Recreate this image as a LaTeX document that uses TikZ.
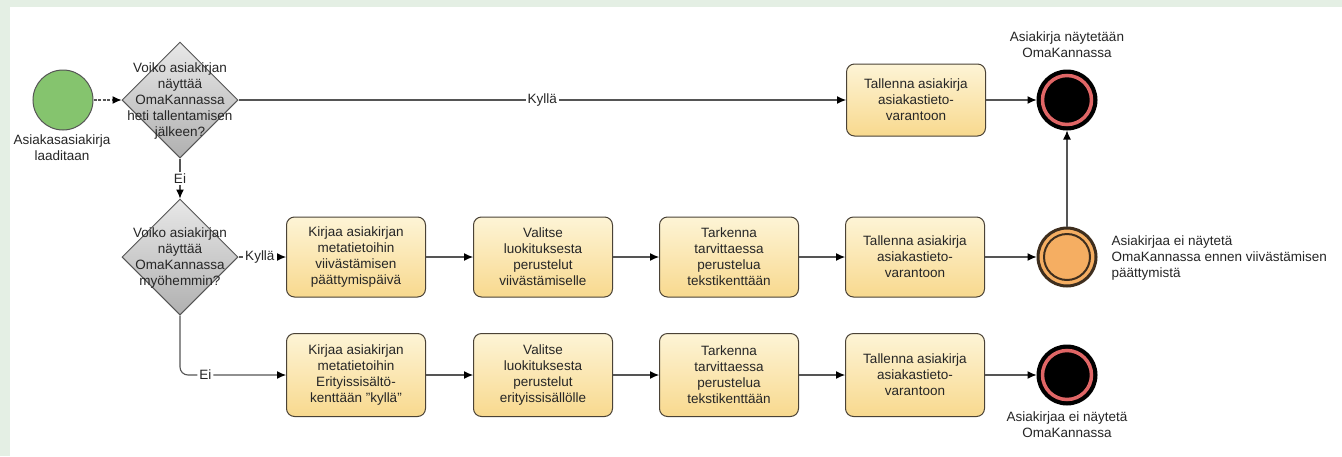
\documentclass[tikz,border=0pt]{standalone}
\usepackage{fontspec}
\setmainfont{Liberation Sans}
\usetikzlibrary{shapes.geometric,arrows.meta}
\definecolor{bgg}{HTML}{E4EFE4}
\definecolor{txt}{HTML}{262626}
\definecolor{lin}{HTML}{555555}
\definecolor{boxtop}{HTML}{FDF4D6}
\definecolor{boxbot}{HTML}{F8D98E}
\definecolor{boxdraw}{HTML}{4A4236}
\definecolor{diatop}{HTML}{E8E8E8}
\definecolor{diabot}{HTML}{B0B0B0}
\definecolor{startg}{HTML}{85C46E}
\definecolor{endred}{HTML}{E06666}
\definecolor{orng}{HTML}{F5AE62}
\definecolor{orngd}{HTML}{3E2E1E}
\tikzset{
  every node/.style={font=\fontsize{13.5}{16}\selectfont, text=txt},
  taskbox/.style={draw=boxdraw, line width=1pt, rounded corners=8pt, top color=boxtop, bottom color=boxbot, minimum width=139pt, minimum height=80pt, align=center, inner sep=2pt},
  gate/.style={diamond, draw=lin, line width=1pt, top color=diatop, bottom color=diabot, minimum width=116pt, minimum height=116pt, inner sep=0pt},
  gatetext/.style={align=center, font=\fontsize{13.5}{16}\selectfont},
  startev/.style={circle, draw=lin, line width=1pt, fill=startg, minimum size=60pt, inner sep=0pt},
  endev/.style={circle, draw=black, line width=3pt, fill=black, minimum size=58pt, inner sep=0pt},
  midev/.style={circle, draw=orngd, line width=3pt, fill=orng, minimum size=58pt, inner sep=0pt},
  flow/.style={draw=lin, line width=1.1pt, -{Latex[length=9pt,width=8pt,fill=black,color=black]}},
  lbl/.style={fill=white, inner sep=2pt}
}
\begin{document}
\begin{tikzpicture}[x=1pt,y=-1pt]
\fill[white] (0,0) rectangle (1342,456);
\fill[bgg] (0,0) rectangle (1342,7);
\fill[bgg] (0,0) rectangle (10,456);
\useasboundingbox (0,0) rectangle (1342,456);

% start
\node[startev] (start) at (63,100) {};
\node[align=center] (startl) at (62,148) {Asiakasasiakirja\\laaditaan};

% gateway 1
\node[gate] (d1) at (180,100) {};
\node[gatetext] (d1t) at (180,101) {Voiko asiakirjan\\näyttää\\OmaKannassa\\heti tallentamisen\\jälkeen?};

% top row
\node[taskbox, minimum height=72pt] (t1) at (916,100) {Tallenna asiakirja\\asiakastieto-\\varantoon};
\node[endev] (e1) at (1067,100) {};
\draw[endred, line width=3.5pt] (e1) circle[radius=24.5pt];
\node[align=center] (e1l) at (1067,45) {Asiakirja näytetään\\OmaKannassa};

% gateway 2
\node[gate] (d2) at (180,257) {};
\node[gatetext] (d2t) at (180,258) {Voiko asiakirjan\\näyttää\\OmaKannassa\\myöhemmin?};

% row 2
\node[taskbox] (b21) at (356,257) {Kirjaa asiakirjan\\metatietoihin\\viivästämisen\\päättymispäivä};
\node[taskbox] (b22) at (543,257) {Valitse\\luokituksesta\\perustelut\\viivästämiselle};
\node[taskbox] (b23) at (729,257) {Tarkenna\\tarvittaessa\\perustelua\\tekstikenttään};
\node[taskbox] (b24) at (915,257) {Tallenna asiakirja\\asiakastieto-\\varantoon};
\node[midev] (o2) at (1067,257) {};
\draw[orngd, line width=2pt] (o2) circle[radius=23pt];
\node[align=left, anchor=west] (o2l) at (1108,258) {Asiakirjaa ei näytetä\\OmaKannassa ennen viivästämisen\\päättymistä};

% row 3
\node[taskbox, minimum height=83pt] (b31) at (356,375) {Kirjaa asiakirjan\\metatietoihin\\Erityissisältö-\\kenttään \char34kyllä\char34};
\node[taskbox, minimum height=83pt] (b32) at (543,375) {Valitse\\luokituksesta\\perustelut\\erityissisällölle};
\node[taskbox, minimum height=83pt] (b33) at (729,375) {Tarkenna\\tarvittaessa\\perustelua\\tekstikenttään};
\node[taskbox, minimum height=83pt] (b34) at (915,375) {Tallenna asiakirja\\asiakastieto-\\varantoon};
\node[endev] (e3) at (1067,375) {};
\draw[endred, line width=3.5pt] (e3) circle[radius=24.5pt];
\node[align=center] (e3l) at (1067,425) {Asiakirjaa ei näytetä\\OmaKannassa};

% flows
\draw[flow, dash pattern=on 3pt off 1.5pt] (start) -- (d1);
\draw[flow] (d1.east) -- node[lbl] {Kyllä} (t1.west);
\draw[flow] (t1.east) -- (e1);
\draw[flow] (d1.south) -- node[lbl] {Ei} (d2.north);
\draw[flow] (d2.east) -- node[lbl, pos=0.45] {Kyllä} (b21.west);
\draw[flow] (b21) -- (b22);
\draw[flow] (b22) -- (b23);
\draw[flow] (b23) -- (b24);
\draw[flow] (b24) -- (o2);
\draw[flow] (o2) -- (e1);
\draw[flow, rounded corners=8pt] (d2.south) |- node[lbl, pos=0.62] {Ei} (b31.west);
\draw[flow] (b31) -- (b32);
\draw[flow] (b32) -- (b33);
\draw[flow] (b33) -- (b34);
\draw[flow] (b34) -- (e3);
\end{tikzpicture}
\end{document}
